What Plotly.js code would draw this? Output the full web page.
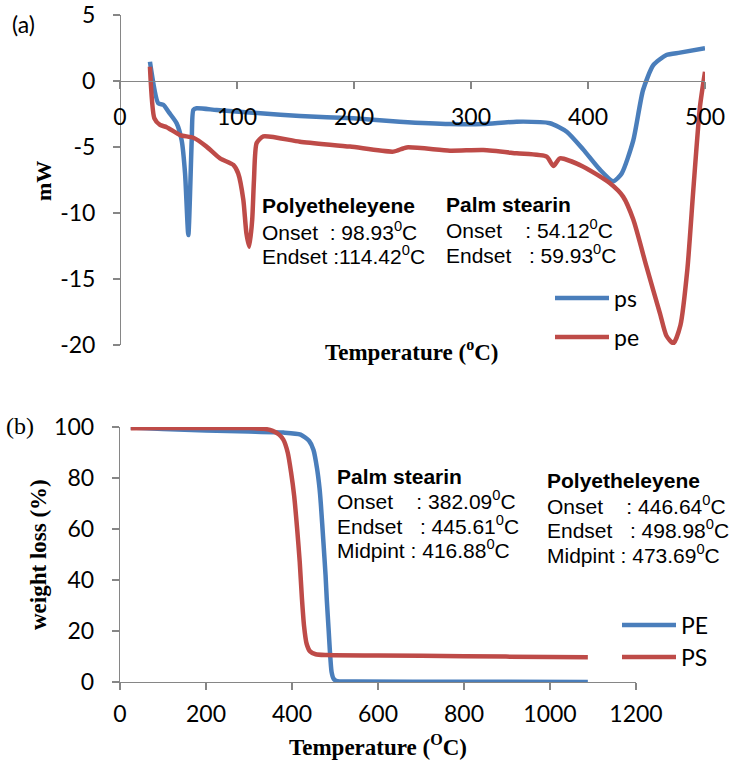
<!DOCTYPE html>
<html>
<head>
<meta charset="utf-8">
<script src="https://cdn.plot.ly/plotly-3.0.1.min.js"></script>
<style>html,body{margin:0;padding:0;background:#fff;}#chart{width:734px;height:765px;}</style>
</head>
<body>
<div id="chart"></div>
<script>
// ---------- DATA: (a) DSC ----------
const dscPsT  = [25.6,32.7,37,42,48.4,52.7,55.6,58.4,61.3,62.7,65.5,82.6,120,153.8,199.4,239,282,310,339,367.5,381.8,396,410,421.6,428.8,438.7,447,455.8,467,478.6,500];
const dscPsMW = [1.46,-1.69,-1.8,-2.4,-3.2,-4.5,-7.0,-11.67,-4.5,-2.2,-2.07,-2.2,-2.45,-2.65,-2.83,-3.08,-3.26,-3.26,-3.08,-3.2,-3.84,-5.2,-6.7,-7.6,-7.0,-4.5,-0.7,1.2,1.97,2.15,2.48];
const dscPeT  = [25.6,29.4,34.2,39.9,51.3,62.7,74,85.5,96.9,101,105.4,108,110.5,113,114.5,116.8,122.5,153.8,196.6,233.6,245,282,310.5,339,364.7,370.4,376,396,418.8,430,438.7,450,461.5,467,473,479,485,490,495.7,500];
const dscPeMW = [1.08,-2.83,-3.33,-3.5,-4.1,-4.3,-4.97,-5.86,-6.36,-7.0,-9.0,-11.5,-12.55,-10.5,-7.5,-4.7,-4.2,-4.6,-4.97,-5.35,-5.03,-5.28,-5.23,-5.48,-5.73,-6.44,-5.86,-6.49,-7.75,-8.76,-10.5,-14.07,-17.6,-19.3,-19.87,-18.5,-14.2,-8.26,-1.94,0.7];

// ---------- DATA: (b) TGA ----------
const tgaPeT = [25,100,200,300,380,420,440,450,458,464,467,473,478,481,485,488,492,497,505,550,800,1088];
const tgaPeW = [99.8,99.2,98.6,98.2,97.8,97,94.5,91,84,76,70,55,42,32,21,12.5,4,1.2,0.3,0.2,0.1,0];
const tgaPsT = [25,100,200,300,335,355,370,380,390,398,405,412,418,423,428,434,442,455,480,600,800,1000,1088];
const tgaPsW = [99.5,99.6,99.6,99.6,99.3,98.5,97,95,90,82,73,60,47,33,22,15,12,10.9,10.6,10.4,10.1,9.8,9.7];

// ---------- axis settings / labels ----------
const dscXRange = [0, 500], dscYRange = [-20, 5];
const tgaXRange = [0, 1200], tgaYRange = [0, 100];
const dscYTicks = [5, 0, -5, -10, -15, -20];
const dscYTickText = ['5', '0', '-5', '-10', '-15', '-20'];
const dscNames = ['ps', 'pe'];
const tgaNames = ['PE', 'PS'];

// annotation texts
const dscPeLines = ['<b>Polyetheleyene</b>', 'Onset\u00a0\u00a0: 98.93<sup>0</sup>C', 'Endset\u00a0:114.42<sup>0</sup>C'];
const dscPsLines = ['<b>Palm stearin</b>', 'Onset\u00a0\u00a0\u00a0\u00a0: 54.12<sup>0</sup>C', 'Endset\u00a0\u00a0\u00a0: 59.93<sup>0</sup>C'];
const tgaPsLines = ['<b>Palm stearin</b>', 'Onset\u00a0\u00a0\u00a0\u00a0: 382.09<sup>0</sup>C', 'Endset\u00a0\u00a0\u00a0: 445.61<sup>0</sup>C', 'Midpint : 416.88<sup>0</sup>C'];
const tgaPeLines = ['<b>Polyetheleyene</b>', 'Onset\u00a0\u00a0\u00a0\u00a0: 446.64<sup>0</sup>C', 'Endset\u00a0\u00a0\u00a0: 498.98<sup>0</sup>C', 'Midpint : 473.69<sup>0</sup>C'];

// ---------- layout helpers (pixel -> paper) ----------
const W = 734, H = 765;
const fx = p => p / W;
const fy = p => 1 - p / H;

const BLUE = '#4a7ebb', RED = '#be4b48', AXC = '#868686';
const tickFont = {family: 'Lato, Calibri, sans-serif', size: 23, color: '#000'};
const serifB = {family: '"Liberation Serif", "Times New Roman", serif', size: 23, color: '#000'};
const annFont = {family: '"Liberation Sans", Arial, sans-serif', size: 21, color: '#000'};

const dscYDom = [fy(345), fy(15)];
const dscXPos = dscYDom[0] + (0 - dscYRange[0]) / (dscYRange[1] - dscYRange[0]) * (dscYDom[1] - dscYDom[0]);

const lw = 4.5;
const traces = [
  {x: dscPsT, y: dscPsMW, name: dscNames[0], xaxis: 'x', yaxis: 'y', mode: 'lines', line: {color: BLUE, width: lw, shape: 'spline', smoothing: 0.6}, legend: 'legend'},
  {x: dscPeT, y: dscPeMW, name: dscNames[1], xaxis: 'x', yaxis: 'y', mode: 'lines', line: {color: RED, width: lw, shape: 'spline', smoothing: 0.6}, legend: 'legend2'},
  {x: tgaPeT, y: tgaPeW, name: tgaNames[0], xaxis: 'x2', yaxis: 'y2', mode: 'lines', line: {color: BLUE, width: lw, shape: 'spline', smoothing: 0.6}, legend: 'legend3'},
  {x: tgaPsT, y: tgaPsW, name: tgaNames[1], xaxis: 'x2', yaxis: 'y2', mode: 'lines', line: {color: RED, width: lw, shape: 'spline', smoothing: 0.6}, legend: 'legend4'}
];

function axBase(extra) {
  return Object.assign({
    showgrid: false, zeroline: false, showline: true, linecolor: AXC, linewidth: 1.3,
    ticks: 'outside', ticklen: 7, tickcolor: AXC, tickwidth: 1.3, tickfont: tickFont,
    fixedrange: true
  }, extra);
}

function legendAt(xp, yp) {
  return {x: fx(xp), y: fy(yp), xanchor: 'left', yanchor: 'middle', bgcolor: 'rgba(0,0,0,0)',
          borderwidth: 0, font: {family: 'Lato, Calibri, sans-serif', size: 23, color: '#000'}, itemwidth: 54};
}

const annotations = [];
function addLines(lines, xp, ys) {
  lines.forEach((t, i) => annotations.push({
    text: t, xref: 'paper', yref: 'paper', x: fx(xp), y: fy(ys[i]),
    xanchor: 'left', yanchor: 'middle', showarrow: false, font: annFont, borderpad: 0
  }));
}
addLines(dscPeLines, 261, [205.7, 231, 255]);
addLines(dscPsLines, 445, [205, 229, 254]);
addLines(tgaPsLines, 336, [476, 500, 525, 549]);
addLines(tgaPeLines, 546, [480, 505, 529, 554]);

function label(text, xp, yp, font, angle) {
  annotations.push({text: text, xref: 'paper', yref: 'paper', x: fx(xp), y: fy(yp),
    xanchor: 'center', yanchor: 'middle', showarrow: false, font: font, textangle: angle || 0});
}
label('<b>Temperature (<sup>o</sup>C)</b>', 412, 351, serifB);
label('<b>Temperature (<sup>O</sup>C)</b>', 378, 745, serifB);
label('<b>mW</b>', 43, 181, Object.assign({}, serifB, {size: 22}), -90);
label('<b>weight loss (%)</b>', 38, 555, serifB, -90);
label('(a)', 23, 24, {family: 'Lato, Calibri, sans-serif', size: 23, color: '#000'});
label('(b)', 20, 426, {family: '"Liberation Serif", serif', size: 24, color: '#000'});

const layout = {
  width: W, height: H,
  margin: {l: 0, r: 0, t: 0, b: 0},
  paper_bgcolor: '#fff', plot_bgcolor: 'rgba(0,0,0,0)',
  xaxis: axBase({domain: [fx(120), fx(705)], range: dscXRange, dtick: 100, tick0: 0,
                 anchor: 'free', position: dscXPos, ticklabelstandoff: 8}),
  yaxis: axBase({domain: dscYDom, range: dscYRange, tickmode: 'array', tickvals: dscYTicks, ticktext: dscYTickText,
                 anchor: 'free', position: fx(120), ticklabelstandoff: 13}),
  xaxis2: axBase({domain: [fx(120), fx(636)], range: tgaXRange, dtick: 200, tick0: 0,
                  anchor: 'y2', ticklabelstandoff: 4}),
  yaxis2: axBase({domain: [fy(682), fy(427)], range: tgaYRange, dtick: 20, anchor: 'x2',
                  ticklabelstandoff: 13}),
  legend: legendAt(550, 298),
  legend2: legendAt(550, 337),
  legend3: legendAt(617, 625),
  legend4: legendAt(617, 657),
  annotations: annotations,
  showlegend: true
};

Plotly.newPlot('chart', traces, layout, {staticPlot: true, displayModeBar: false});
</script>
</body>
</html>
